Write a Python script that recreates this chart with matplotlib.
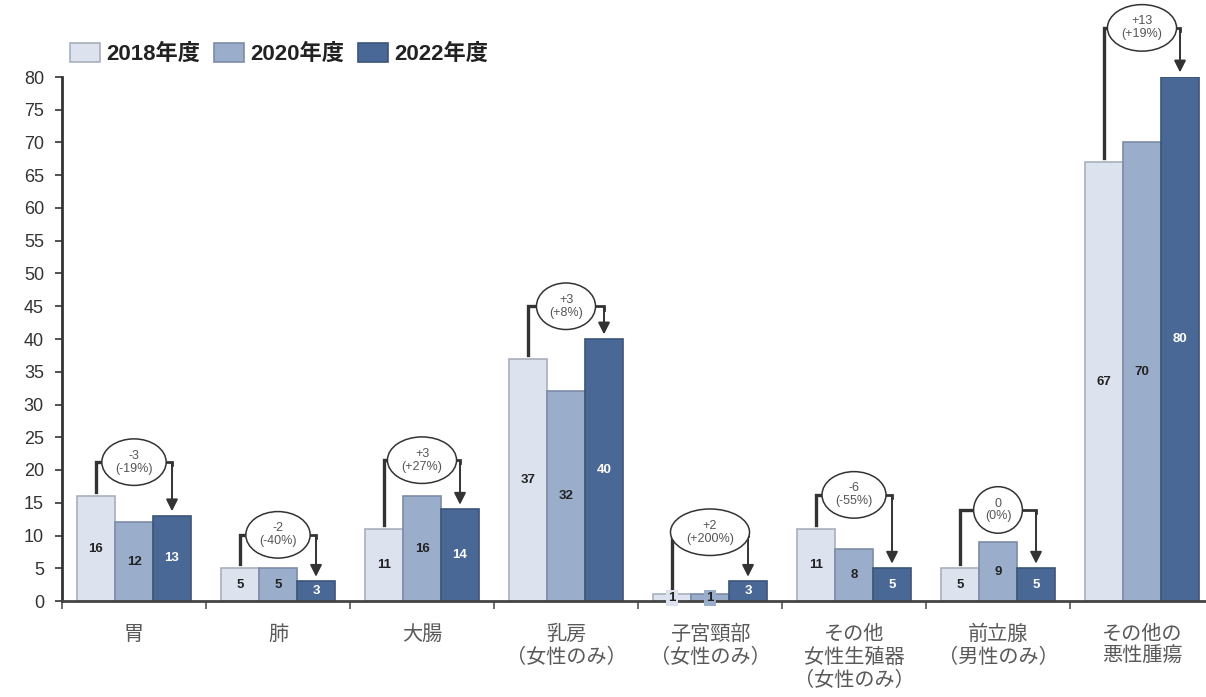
import matplotlib
matplotlib.use("Agg")
import matplotlib.pyplot as plt
import numpy as np

plt.rcParams['font.family'] = ['Liberation Sans', 'Noto Sans CJK JP', 'DejaVu Sans']

# data
categories = ['胃', '肺', '大腸', '乳房\n（女性のみ）', '子宮頸部\n（女性のみ）',
              'その他\n女性生殖器\n（女性のみ）', '前立腺\n（男性のみ）', 'その他の\n悪性腫瘍']
years = ['2018年度', '2020年度', '2022年度']
v2018 = [16, 5, 11, 37, 1, 11, 5, 67]
v2020 = [12, 5, 16, 32, 1, 8, 9, 70]
v2022 = [13, 3, 14, 40, 3, 5, 5, 80]
diff_labels = ['-3\n(-19%)', '-2\n(-40%)', '+3\n(+27%)', '+3\n(+8%)',
               '+2\n(+200%)', '-6\n(-55%)', '0\n(0%)', '+13\n(+19%)']

# layout / style
bracket_y = [21.2, 10.1, 21.5, 45.0, 10.5, 16.2, 13.9, 87.5]
face = ['#dde3ee', '#9aaecb', '#4a6896']
edge = ['#a8b0bd', '#7d8ca6', '#3b5478']
txt = ['#222222', '#222222', '#ffffff']
bw = 0.264

fig = plt.figure(figsize=(12.06, 6.97), dpi=100)
ax = fig.add_axes([62 / 1206, 1 - 601 / 697, 1152 / 1206, 524 / 697])

x = np.arange(len(categories))
series = [v2018, v2020, v2022]
for i, vals in enumerate(series):
    xs = x + (i - 1) * bw
    ax.bar(xs, vals, bw, color=face[i], edgecolor=edge[i], linewidth=1.2,
           label=years[i], zorder=2)
    for xi, v in zip(xs, vals):
        ax.text(xi, v / 2, str(v), ha='center', va='center', fontsize=9.5,
                fontweight='bold', color=txt[i], zorder=4,
                bbox=dict(boxstyle='square,pad=0.15', fc=face[i], ec='none') if v < 2 else None)

# change brackets
for k in range(len(categories)):
    x1 = x[k] - bw
    x3 = x[k] + bw
    y = bracket_y[k]
    ax.plot([x1, x1, x[k]], [v2018[k] + 0.6, y, y], color='#333333', lw=2.4,
            clip_on=False, zorder=3, solid_joinstyle='miter')
    ax.plot([x[k], x3, x3], [y, y, y - 0.5], color='#333333', lw=2.0,
            clip_on=False, zorder=3, solid_joinstyle='miter')
    ax.annotate('', xy=(x3, v2022[k] + 0.7), xytext=(x3, y - 0.3),
                arrowprops=dict(arrowstyle='-|>,head_width=0.35,head_length=0.7',
                                color='#333333', lw=1.4, shrinkA=0, shrinkB=0),
                annotation_clip=False, zorder=3)
    ax.text(x[k], y, diff_labels[k], ha='center', va='center', fontsize=9,
            color='#555555', linespacing=1.1, zorder=5,
            bbox=dict(boxstyle='ellipse,pad=0.32', fc='white', ec='#333333', lw=1.1))

ax.set_xlim(-0.5, len(categories) - 0.5)
ax.set_ylim(0, 80)
ax.set_yticks(np.arange(0, 81, 5))
ax.tick_params(axis='y', labelsize=13, colors='#333333', labelcolor='#333333',
               length=5, width=1.2, pad=8)
ax.set_xticks(x)
ax.set_xticklabels(categories, fontsize=14.5, color='#595959', linespacing=1.25)
ax.tick_params(axis='x', which='major', length=0, pad=17)
ax.set_xticks(np.arange(-0.5, len(categories), 1), minor=True)
ax.tick_params(axis='x', which='minor', length=6, width=1.2, color='#555555')

for s in ['top', 'right']:
    ax.spines[s].set_visible(False)
ax.spines['left'].set_linewidth(2)
ax.spines['left'].set_color('#333333')
ax.spines['bottom'].set_linewidth(2)
ax.spines['bottom'].set_color('#444444')

leg = fig.legend(loc='lower left', bbox_to_anchor=(61 / 1206, 1 - 74 / 697), ncol=3,
                 frameon=False, handlelength=1.35, handleheight=1.0, handletextpad=0.3,
                 columnspacing=0.6, borderaxespad=0, prop={'size': 16, 'weight': 'bold'})
for t in leg.get_texts():
    t.set_color('#222222')

fig.savefig('out.png', dpi=100)
